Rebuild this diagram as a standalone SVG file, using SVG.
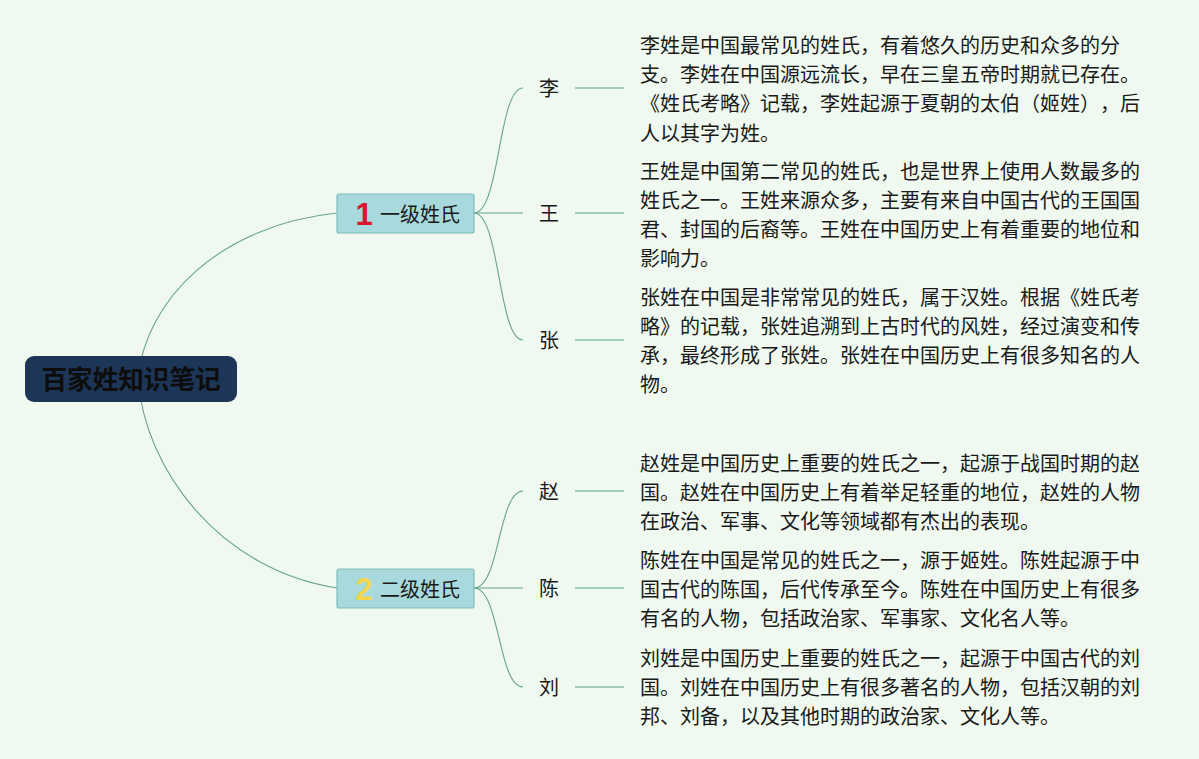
<svg xmlns="http://www.w3.org/2000/svg" width="1199" height="759" viewBox="0 0 1199 759">
<style>
.bg{fill:#eff9ef}
.ln{fill:none;stroke:#6aa390;stroke-width:1.1}
.sl{fill:none;stroke:#8dbcaf;stroke-width:1.3}
.l1{fill:#a8d9dc;stroke:#80bcbc;stroke-width:1.2}
.cjk{font-family:"Noto Sans CJK SC","Noto Sans",sans-serif;text-spacing-trim:space-all}
.t1{font-size:20px;fill:#1a1a1a}
.lab{font-size:20px;fill:#1a1a1a}
.body{font-size:20px;fill:#1a1a1a}
.num{font-family:"Liberation Sans",Arial,sans-serif;font-weight:bold;font-size:31px}
</style>
<rect class="bg" x="0" y="0" width="1199" height="759"/>
<g id="connectors">
<path class="ln" d="M138,379 C145,300 220,225 337,213"/>
<path class="ln" d="M138,379 C145,470 220,570 337,588"/>
<path class="ln" d="M474,213 C500,213 498,88 523,88"/>
<path class="ln" d="M474,213 L523,213"/>
<path class="ln" d="M474,213 C500,213 498,340 523,340"/>
<path class="ln" d="M474,588 C500,588 498,491 523,491"/>
<path class="ln" d="M474,588 L523,588"/>
<path class="ln" d="M474,588 C500,588 498,687 523,687"/>
<path class="sl" d="M575,88 H624 M575,213 H624 M575,340 H624 M575,491 H624 M575,588 H624 M575,687 H624"/>
</g>
<g id="root">
<rect x="25" y="356" width="212" height="46" rx="9" fill="#1d3557"/>
<text x="131" y="389" text-anchor="middle" class="cjk" font-size="25.6" font-weight="bold" fill="#0d0d0d">百家姓知识笔记</text>
</g>
<g id="level1">
<rect class="l1" x="337" y="194" width="137" height="39" rx="2"/>
<text x="364" y="225" text-anchor="middle" class="num" fill="#d9162f">1</text>
<text x="380" y="222" class="cjk t1">一级姓氏</text>
</g>
<g id="level2">
<rect class="l1" x="337" y="569" width="137" height="39" rx="2"/>
<text x="364" y="600" text-anchor="middle" class="num" fill="#f3d64b">2</text>
<text x="380" y="597" class="cjk t1">二级姓氏</text>
</g>
<g id="li">
<text x="539" y="95.5" class="cjk lab">李</text>
<text class="cjk body" x="640"><tspan x="640" y="52.5">李姓是中国最常见的姓氏，有着悠久的历史和众多的分</tspan><tspan x="640" y="82">支。李姓在中国源远流长，早在三皇五帝时期就已存在。</tspan><tspan x="640" y="111.3">《姓氏考略》记载，李姓起源于夏朝的太伯（姬姓），后</tspan><tspan x="640" y="140.6">人以其字为姓。</tspan></text>
</g>
<g id="wang">
<text x="539" y="220.5" class="cjk lab">王</text>
<text class="cjk body" x="640"><tspan x="640" y="178.5">王姓是中国第二常见的姓氏，也是世界上使用人数最多的</tspan><tspan x="640" y="207.8">姓氏之一。王姓来源众多，主要有来自中国古代的王国国</tspan><tspan x="640" y="237.1">君、封国的后裔等。王姓在中国历史上有着重要的地位和</tspan><tspan x="640" y="266.4">影响力。</tspan></text>
</g>
<g id="zhang">
<text x="539" y="347.5" class="cjk lab">张</text>
<text class="cjk body" x="640"><tspan x="640" y="304.5">张姓在中国是非常常见的姓氏，属于汉姓。根据《姓氏考</tspan><tspan x="640" y="333.8">略》的记载，张姓追溯到上古时代的风姓，经过演变和传</tspan><tspan x="640" y="363.1">承，最终形成了张姓。张姓在中国历史上有很多知名的人</tspan><tspan x="640" y="392.4">物。</tspan></text>
</g>
<g id="zhao">
<text x="539" y="498.5" class="cjk lab">赵</text>
<text class="cjk body" x="640"><tspan x="640" y="470.5">赵姓是中国历史上重要的姓氏之一，起源于战国时期的赵</tspan><tspan x="640" y="499.8">国。赵姓在中国历史上有着举足轻重的地位，赵姓的人物</tspan><tspan x="640" y="529.1">在政治、军事、文化等领域都有杰出的表现。</tspan></text>
</g>
<g id="chen">
<text x="539" y="596" class="cjk lab">陈</text>
<text class="cjk body" x="640"><tspan x="640" y="567.5">陈姓在中国是常见的姓氏之一，源于姬姓。陈姓起源于中</tspan><tspan x="640" y="596.8">国古代的陈国，后代传承至今。陈姓在中国历史上有很多</tspan><tspan x="640" y="626.1">有名的人物，包括政治家、军事家、文化名人等。</tspan></text>
</g>
<g id="liu">
<text x="539" y="694.5" class="cjk lab">刘</text>
<text class="cjk body" x="640"><tspan x="640" y="665.5">刘姓是中国历史上重要的姓氏之一，起源于中国古代的刘</tspan><tspan x="640" y="694.8">国。刘姓在中国历史上有很多著名的人物，包括汉朝的刘</tspan><tspan x="640" y="724.1">邦、刘备，以及其他时期的政治家、文化人等。</tspan></text>
</g>
</svg>
